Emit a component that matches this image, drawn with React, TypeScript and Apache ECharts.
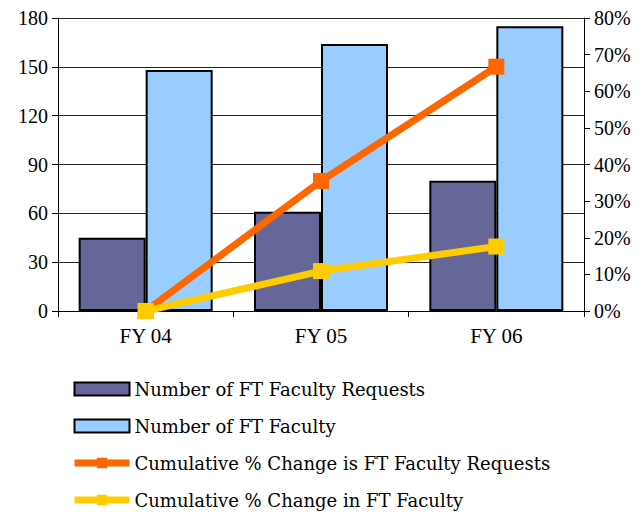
import React, { useEffect, useRef } from "react";
import * as echarts from "echarts";

const categories = ["FY 04", "FY 05", "FY 06"];
const facultyRequests = [45, 61, 80];
const facultyCount = [148, 164, 175];
const pctChangeRequests = [0, 35.5, 66.7];
const pctChangeFaculty = [0, 10.9, 17.6];
const leftTicks = { min: 0, max: 180, interval: 30 };
const rightTicks = { min: 0, max: 80, interval: 10 };

const FONT = "Liberation Serif";
const FONT2 = "DejaVu Serif";

export default function App() {
  const ref = useRef<HTMLDivElement>(null);
  useEffect(() => {
    document.body.style.margin = "0";
    const chart = echarts.init(ref.current!, null, { renderer: "svg" });
    const label = { fontFamily: FONT, fontSize: 20, color: "#000" };
    chart.setOption({
      animation: false,
      backgroundColor: "#fff",
      grid: { left: 58, right: 57, top: 18, height: 293 },
      legend: {
        orient: "vertical",
        left: 71,
        top: 380,
        padding: 0,
        itemWidth: 55,
        itemHeight: 13,
        itemGap: 19,
        textStyle: { fontFamily: FONT2, fontSize: 18, color: "#000" },
        lineStyle: { width: 7 },
        data: [
          { name: "Number of FT Faculty Requests", icon: "rect" },
          { name: "Number of FT Faculty", icon: "rect" },
          { name: "Cumulative % Change is FT Faculty Requests" },
          { name: "Cumulative % Change in FT Faculty" },
        ],
      },
      xAxis: {
        type: "category",
        data: categories,
        axisLine: { lineStyle: { color: "#000", width: 1 } },
        axisTick: { show: true, length: 6, lineStyle: { color: "#000" } },
        axisLabel: { ...label, fontSize: 21, margin: 14 },
        splitLine: { show: false },
      },
      yAxis: [
        {
          type: "value",
          ...leftTicks,
          axisLine: { show: true, lineStyle: { color: "#000" } },
          axisTick: { show: true, length: 6, lineStyle: { color: "#000" } },
          axisLabel: { ...label, margin: 10 },
          splitLine: { show: true, lineStyle: { color: "#222", width: 1 } },
        },
        {
          type: "value",
          ...rightTicks,
          position: "right",
          axisLine: { show: true, lineStyle: { color: "#000" } },
          axisTick: { show: true, length: 6, lineStyle: { color: "#000" } },
          axisLabel: { ...label, margin: 10, formatter: "{value}%" },
          splitLine: { show: false },
        },
      ],
      series: [
        {
          name: "Number of FT Faculty Requests",
          type: "bar",
          data: facultyRequests,
          barWidth: 67,
          barGap: "0%",
          itemStyle: { color: "#666699", borderColor: "#000", borderWidth: 2 },
        },
        {
          name: "Number of FT Faculty",
          type: "bar",
          data: facultyCount,
          barWidth: 67,
          barGap: "0%",
          itemStyle: { color: "#99CCFF", borderColor: "#000", borderWidth: 2 },
        },
        {
          name: "Cumulative % Change is FT Faculty Requests",
          type: "line",
          yAxisIndex: 1,
          data: pctChangeRequests,
          symbol: "rect",
          symbolSize: 16,
          lineStyle: { color: "#FF6600", width: 7 },
          itemStyle: { color: "#FF6600" },
          z: 3,
        },
        {
          name: "Cumulative % Change in FT Faculty",
          type: "line",
          yAxisIndex: 1,
          data: pctChangeFaculty,
          symbol: "rect",
          symbolSize: 16,
          lineStyle: { color: "#FFCC00", width: 7 },
          itemStyle: { color: "#FFCC00" },
          z: 4,
        },
      ],
    });
    return () => chart.dispose();
  }, []);
  return <div ref={ref} style={{ width: 641, height: 512 }} />;
}
